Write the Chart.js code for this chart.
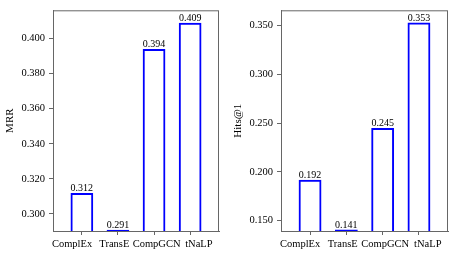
<!DOCTYPE html>
<html>
<head>
<meta charset="utf-8">
<script src="https://cdn.jsdelivr.net/npm/chart.js@4"></script>
<style>
  html, body { margin: 0; padding: 0; background: #fff; }
  .wrap { display: flex; width: 457px; height: 257px; }
  .box { position: relative; height: 257px; }
</style>
</head>
<body>
<div class="wrap">
  <div class="box" style="width:228px"><canvas id="mrrChart"></canvas></div>
  <div class="box" style="width:229px"><canvas id="hitsChart"></canvas></div>
</div>
<script>
const models = ['ComplEx', 'TransE', 'CompGCN', 'tNaLP'];
const mrrValues = [0.312, 0.291, 0.394, 0.409];
const hitsValues = [0.192, 0.141, 0.245, 0.353];
const mrrTicks = [0.300, 0.320, 0.340, 0.360, 0.380, 0.400];
const hitsTicks = [0.150, 0.200, 0.250, 0.300, 0.350];

const FONT = 'Liberation Serif';
const AXIS_GRAY = '#666';

// frame on all four sides + value labels above bars
const framePlugin = {
    id: 'frame',
    afterDatasetsDraw(chart) {
        const { ctx, chartArea: a } = chart;
        ctx.save();
        ctx.font = '10px "' + FONT + '"';
        ctx.fillStyle = '#000';
        ctx.textAlign = 'center';
        ctx.textBaseline = 'bottom';
        const ds = chart.data.datasets[0];
        chart.getDatasetMeta(0).data.forEach((bar, i) => {
            ctx.fillText(ds.data[i].y.toFixed(3), bar.x, bar.y + 0.5);
        });
        ctx.strokeStyle = AXIS_GRAY;
        ctx.lineWidth = 1;
        ctx.strokeRect(a.left + 0.5, a.top + 0.5, a.right - a.left - 1, a.bottom - a.top);
        ctx.restore();
    }
};

function makeChart(id, label, values, ticks, yMin, yMax) {
    const ctx = document.getElementById(id).getContext('2d');
    return new Chart(ctx, {
        type: 'bar',
        data: {
            datasets: [{
                data: values.map((v, i) => ({ x: i, y: v })),
                backgroundColor: 'rgba(255,255,255,0)',
                borderColor: '#0000ff',
                borderWidth: 2,
                barPercentage: 0.63,
                categoryPercentage: 1
            }]
        },
        options: {
            responsive: true,
            maintainAspectRatio: false,
            animation: false,
            layout: { padding: { left: 0, right: 9, top: 10, bottom: 0 } },
            plugins: { legend: { display: false }, tooltip: { enabled: false } },
            scales: {
                // data axis: tick marks only
                x: {
                    type: 'linear',
                    min: -0.8,
                    max: 3.8,
                    offset: false,
                    weight: 0,
                    grid: { offset: false, drawOnChartArea: false, drawTicks: true, tickLength: 4, color: AXIS_GRAY },
                    border: { color: AXIS_GRAY },
                    afterBuildTicks: s => { s.ticks = models.map((m, i) => ({ value: i })); },
                    afterFit: s => { s.height = 4; },
                    ticks: { display: false }
                },
                // label axis: the names sit a bit wider apart than the bars
                xLabels: {
                    type: 'linear',
                    position: 'bottom',
                    axis: 'x',
                    min: -0.45,
                    max: 3.475,
                    offset: false,
                    weight: 1,
                    grid: { display: false, drawTicks: false },
                    border: { display: false },
                    afterBuildTicks: s => { s.ticks = models.map((m, i) => ({ value: i })); },
                    afterFit: s => { s.height = 22; },
                    ticks: {
                        autoSkip: false,
                        maxRotation: 0,
                        padding: 3,
                        color: '#000',
                        font: { family: FONT, size: 10.5 },
                        callback: v => models[v]
                    }
                },
                y: {
                    min: yMin,
                    max: yMax,
                    grid: { drawOnChartArea: false, drawTicks: true, tickLength: 4, color: AXIS_GRAY },
                    border: { color: AXIS_GRAY },
                    afterBuildTicks: s => { s.ticks = ticks.map(t => ({ value: t })); },
                    afterFit: s => { s.width = 53; },
                    ticks: {
                        padding: 4,
                        color: '#000',
                        font: { family: FONT, size: 10.5 },
                        callback: v => v.toFixed(3)
                    },
                    title: {
                        display: true,
                        text: label,
                        color: '#000',
                        font: { family: FONT, size: 11 },
                        padding: { top: 4, bottom: 0 }
                    }
                }
            }
        },
        plugins: [framePlugin]
    });
}

makeChart('mrrChart', 'MRR', mrrValues, mrrTicks, 0.2903, 0.4161);
makeChart('hitsChart', 'Hits@1', hitsValues, hitsTicks, 0.1395, 0.3654);
</script>
</body>
</html>
